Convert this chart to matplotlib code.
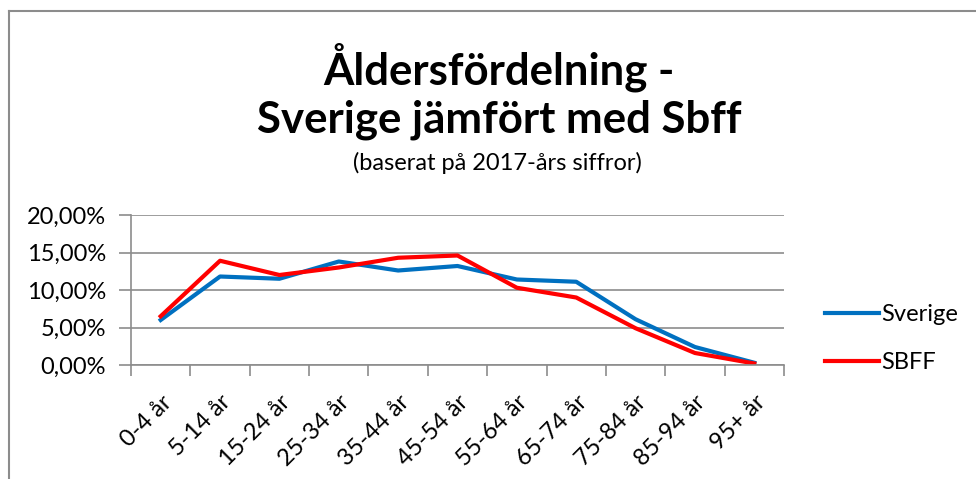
import numpy as np
import matplotlib
matplotlib.use("Agg")
import matplotlib.pyplot as plt
from matplotlib.ticker import FuncFormatter

plt.rcParams["font.family"] = ["Lato", "DejaVu Sans"]

# Data (share of population per age group, %)
age_groups = ["0-4 år", "5-14 år", "15-24 år", "25-34 år", "35-44 år", "45-54 år",
              "55-64 år", "65-74 år", "75-84 år", "85-94 år", "95+ år"]
sverige = [6.0, 11.8, 11.5, 13.8, 12.6, 13.2, 11.4, 11.1, 6.1, 2.4, 0.3]
sbff = [6.5, 13.9, 12.0, 13.0, 14.3, 14.6, 10.3, 9.0, 4.9, 1.6, 0.2]

W, H = 976, 479
fig = plt.figure(figsize=(W / 100, H / 100), dpi=100)

# chart border (cropped Excel chart area)
fig.add_artist(plt.Line2D([9 / W, 9 / W], [0, 1 - 11 / H], color="#8c8c8c", lw=1.5))
fig.add_artist(plt.Line2D([9 / W, 1], [1 - 11 / H, 1 - 11 / H], color="#8c8c8c", lw=1.5))

ax = fig.add_axes([131 / W, (H - 365) / H, (784 - 131) / W, 150 / H])

x = np.arange(len(age_groups))
ax.plot(x, sverige, color="#0070C0", lw=3, label="Sverige", solid_joinstyle="round")
ax.plot(x, sbff, color="#FF0000", lw=3, label="SBFF", solid_joinstyle="round")

ax.set_xlim(-0.5, len(age_groups) - 0.5)
ax.set_ylim(0, 20)
ax.set_yticks([0, 5, 10, 15, 20])
ax.yaxis.set_major_formatter(FuncFormatter(lambda v, p: f"{v:.2f}%".replace(".", ",")))
ax.grid(axis="y", color="#8c8c8c", lw=1.2)
ax.set_axisbelow(True)

# category labels, rotated, placed below each category
ax.set_xticks([])
for i, lab in enumerate(age_groups):
    ax.annotate(lab, xy=(i, 0), xycoords=("data", "axes fraction"),
                xytext=(0, -19), textcoords="offset points",
                rotation=45, ha="right", va="top", rotation_mode="anchor",
                fontsize=17)
ax.set_xticks(np.arange(-0.5, len(age_groups)), minor=True)
ax.tick_params(axis="x", which="minor", length=8, color="#8c8c8c", width=1.2)
ax.tick_params(axis="y", length=9, color="#8c8c8c", width=1.2, labelsize=17, pad=9)

for side in ["top", "right"]:
    ax.spines[side].set_visible(False)
ax.spines["left"].set_color("#8c8c8c")
ax.spines["bottom"].set_color("#8c8c8c")
ax.spines["left"].set_linewidth(1.2)
ax.spines["bottom"].set_linewidth(1.2)

ax.legend(loc="center left", bbox_to_anchor=(1.03, 0.177), frameon=False,
          fontsize=17, handlelength=2.3, handletextpad=0.1, labelspacing=1.15)

fig.text(499 / W, 1 - 67 / H, "Åldersfördelning -", ha="center", va="center",
         fontsize=31.5, fontweight="bold")
fig.text(499 / W, 1 - 120 / H, "Sverige jämfört med Sbff", ha="center", va="center",
         fontsize=31.5, fontweight="bold")
fig.text(497 / W, 1 - 163 / H, "(baserat på 2017-års siffror)", ha="center", va="center",
         fontsize=17)

fig.savefig("out.png", dpi=100)
